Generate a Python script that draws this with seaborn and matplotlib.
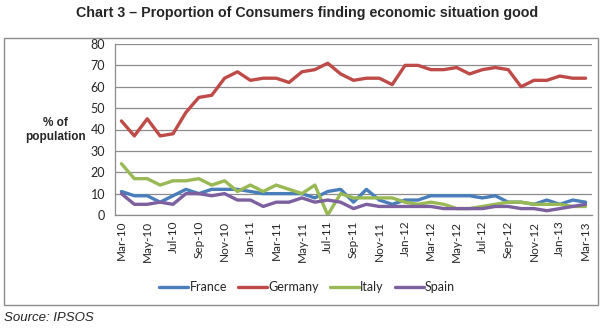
import matplotlib
matplotlib.use("Agg")
import matplotlib.pyplot as plt
import seaborn as sns
import pandas as pd
from matplotlib.patches import Rectangle
from matplotlib.ticker import FixedLocator

months = ["Mar-10", "Apr-10", "May-10", "Jun-10", "Jul-10", "Aug-10", "Sep-10", "Oct-10",
          "Nov-10", "Dec-10", "Jan-11", "Feb-11", "Mar-11", "Apr-11", "May-11", "Jun-11",
          "Jul-11", "Aug-11", "Sep-11", "Oct-11", "Nov-11", "Dec-11", "Jan-12", "Feb-12",
          "Mar-12", "Apr-12", "May-12", "Jun-12", "Jul-12", "Aug-12", "Sep-12", "Oct-12",
          "Nov-12", "Dec-12", "Jan-13", "Feb-13", "Mar-13"]

france = [11, 9, 9, 6, 9, 12, 10, 12, 12, 12, 11, 10, 10, 10, 10, 8, 11, 12, 6, 12,
          7, 5, 7, 7, 9, 9, 9, 9, 8, 9, 6, 6, 5, 7, 5, 7, 6]
germany = [44, 37, 45, 37, 38, 48, 55, 56, 64, 67, 63, 64, 64, 62, 67, 68, 71, 66, 63, 64,
           64, 61, 70, 70, 68, 68, 69, 66, 68, 69, 68, 60, 63, 63, 65, 64, 64]
italy = [24, 17, 17, 14, 16, 16, 17, 14, 16, 11, 14, 11, 14, 12, 10, 14, 0, 10, 8, 8,
         8, 8, 6, 5, 6, 5, 3, 3, 4, 5, 6, 6, 5, 5, 5, 4, 4]
spain = [10, 5, 5, 6, 5, 10, 10, 9, 10, 7, 7, 4, 6, 6, 8, 6, 7, 6, 3, 5,
         4, 4, 4, 4, 4, 3, 3, 3, 3, 4, 4, 3, 3, 2, 3, 4, 5]

countries = ["France", "Germany", "Italy", "Spain"]
colors = ["#4A7EBB", "#BE4B48", "#98B954", "#7D60A0"]
yticks = [0, 10, 20, 30, 40, 50, 60, 70, 80]

series = {"France": france, "Germany": germany, "Italy": italy, "Spain": spain}
rows = []
for c in countries:
    for i, v in enumerate(series[c]):
        rows.append({"pos": i, "month": months[i], "country": c, "value": v})
df = pd.DataFrame(rows)

sns.set_style("white")
plt.rcParams["font.family"] = ["Liberation Sans", "DejaVu Sans"]

fig = plt.figure(figsize=(6.12, 3.28), dpi=100)
ax = fig.add_axes([115 / 612, 1 - 215 / 328, (592 - 115) / 612, (215 - 44) / 328])

sns.lineplot(data=df, x="pos", y="value", hue="country", hue_order=countries,
             palette=colors, linewidth=2.4, ax=ax, legend=False)

ax.set_xlim(-0.5, len(months) - 0.5)
ax.set_ylim(0, 80)
ax.set_yticks(yticks)
ax.set_yticklabels([str(t) for t in yticks], fontsize=9, family="Lato")
ax.yaxis.grid(True, color="#8C8C8C", linewidth=0.9)
ax.xaxis.grid(False)
ax.set_xticks(list(range(0, len(months), 2)))
ax.set_xticklabels(months[::2], rotation=90, fontsize=8.5, family="Lato")
ax.xaxis.set_minor_locator(FixedLocator([k - 0.5 for k in range(0, len(months), 2)]))
ax.tick_params(axis="x", which="major", length=0, pad=4)
ax.tick_params(axis="x", which="minor", length=4, color="#8C8C8C", width=0.9, direction="out")
ax.tick_params(axis="y", which="major", length=4, color="#8C8C8C", width=0.9, direction="out", pad=3)
ax.set_xlabel("")
ax.set_ylabel("")
for s in ["top", "right"]:
    ax.spines[s].set_visible(False)
for s in ["left", "bottom"]:
    ax.spines[s].set_color("#8C8C8C")
    ax.spines[s].set_linewidth(0.9)
for l in ax.get_lines():
    l.set_solid_joinstyle("round")

fig.text(55 / 612, 1 - 130 / 328, "% of\npopulation", ha="center", va="center",
         fontsize=8.5, fontweight="bold", linespacing=1.3)

fig.text(0.501, 1 - 13 / 328, "Chart 3 \u2013 Proportion of Consumers finding economic situation good",
         ha="center", va="center", fontsize=10.3, fontweight="bold")

fig.patches.append(Rectangle((4 / 612, 1 - 305 / 328), (598 - 4) / 612, (305 - 38) / 328,
                             transform=fig.transFigure, fill=False, edgecolor="#8C8C8C",
                             linewidth=1.0))

handles = [plt.Line2D([], [], color=c, linewidth=2.4) for c in colors]
fig.legend(handles, countries, loc="center", bbox_to_anchor=(0.502, 1 - 287 / 328), ncol=4,
           frameon=False, handlelength=2.3, handletextpad=0.1, columnspacing=0.9,
           prop={"family": "Lato", "size": 9})

fig.text(4 / 612, 1 - 318 / 328, "Source: IPSOS", ha="left", va="center",
         fontsize=9.5, style="italic")

fig.savefig("out.png", dpi=100)
